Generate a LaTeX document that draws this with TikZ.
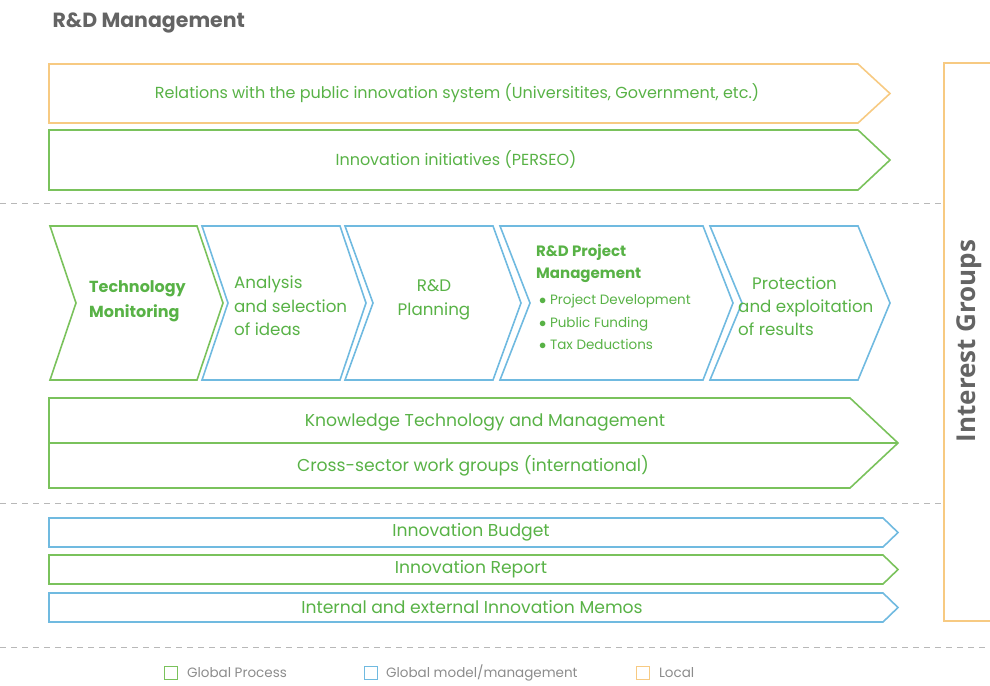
\documentclass[tikz,border=0pt]{standalone}
\usepackage{fontspec}
\setmainfont{Poppins}
\newfontfamily\groupfont{Open Sans}
\usetikzlibrary{positioning}

\definecolor{procgreen}{RGB}{122,194,92}
\definecolor{modelblue}{RGB}{112,186,224}
\definecolor{localorange}{RGB}{247,202,130}
\definecolor{txtgreen}{RGB}{88,178,70}
\definecolor{headgray}{RGB}{100,100,100}

\tikzset{
  proc/.style={draw=procgreen, line width=1.6pt, line join=miter},
  model/.style={draw=modelblue, line width=1.6pt, line join=miter},
  local/.style={draw=localorange, line width=1.6pt, line join=miter},
  sep/.style={draw=black!28, line width=0.9pt, dash pattern=on 6pt off 5pt},
  bartext/.style={text=txtgreen, inner sep=0pt, font=\fontsize{16}{18}\selectfont},
  steptext/.style={text=txtgreen, inner sep=0pt, align=left, anchor=west,
    font=\fontsize{16.7}{23.5}\selectfont},
  keybox/.style={draw, line width=1.3pt, minimum size=12.5pt, inner sep=0pt},
  key/.style={text=black!45, inner sep=0pt, font=\fontsize{13.5}{15}\selectfont},
}

\begin{document}
\begin{tikzpicture}[x=1pt,y=-1pt]
  \useasboundingbox (0,0) rectangle (990,685);

  \node[anchor=west, text=headgray, font=\fontsize{20.5}{24}\selectfont\bfseries] (title) at (49,23) {R\&D Management};

  % upper bars
  \draw[local] (49,64) -- (858,64) -- (890,93.5) -- (858,123) -- (49,123) -- cycle;
  \node[bartext] (public) at (457,93.5) {Relations with the public innovation system (Universitites, Government, etc.)};
  \draw[proc] (49,130) -- (858,130) -- (890,160) -- (858,190) -- (49,190) -- cycle;
  \node[bartext] (perseo) at (456,160) {Innovation initiatives (PERSEO)};

  \draw[sep] (0,203) -- (944,203);

  % value chain
  \foreach \l/\r/\d/\kind in {50/197/26/proc, 202/340/26/model, 345/493/28/model, 500/703/30/model, 710/858/32/model}
    \draw[\kind] (\l,226) -- (\r,226) -- ({\r+\d},303) -- (\r,380) -- (\l,380) -- ({\l+\d},303) -- cycle;

  \node[steptext, font=\fontsize{16}{25}\selectfont\bfseries] (monitor) at (89,301) {Technology\\Monitoring};
  \node[steptext] (ideas) at (234,306) {Analysis\\and selection\\of ideas};
  \node[steptext, align=center, anchor=center] (plan) at (434,300) {R\&D\\Planning};
  \node[steptext, font=\fontsize{15}{22}\selectfont\bfseries] (project) at (536,264) {R\&D Project\\Management};
  \node[steptext, font=\fontsize{13.5}{22.5}\selectfont] (items) at (539,322) {%
    $\bullet$ Project Development\\$\bullet$ Public Funding\\$\bullet$ Tax Deductions};
  \node[steptext, font=\fontsize{16.7}{23}\selectfont] (results) at (738,306) {\hspace*{14pt}Protection\\and exploitation\\of results};

  % knowledge arrow
  \draw[proc] (49,398) -- (850,398) -- (898,443) -- (850,488) -- (49,488) -- cycle;
  \draw[proc] (49,443) -- (898,443);
  \node[bartext, font=\fontsize{17.2}{20}\selectfont] (knowledge) at (485,422) {Knowledge Technology and Management};
  \node[bartext, font=\fontsize{17.2}{20}\selectfont] (crosssector) at (473,466) {Cross-sector work groups (international)};

  \draw[sep] (0,503) -- (944,503);

  % reporting bars
  \draw[model] (49,518) -- (883,518) -- (898,532.5) -- (883,547) -- (49,547) -- cycle;
  \node[bartext, font=\fontsize{17.2}{20}\selectfont] (budget) at (471,532) {Innovation Budget};
  \draw[proc] (49,555) -- (883,555) -- (898,569.5) -- (883,584) -- (49,584) -- cycle;
  \node[bartext, font=\fontsize{17.2}{20}\selectfont] (report) at (471,569) {Innovation Report};
  \draw[model] (49,593) -- (883,593) -- (898,607.5) -- (883,622) -- (49,622) -- cycle;
  \node[bartext, font=\fontsize{17.2}{20}\selectfont] (memos) at (472,607) {Internal and external Innovation Memos};

  % interest groups
  \draw[local] (990,63) -- (944,63) -- (944,621) -- (990,621);
  \node[rotate=90, text=headgray, inner sep=0pt, font=\groupfont\fontsize{26}{30}\selectfont\bfseries] (groups) at (969,341) {Interest Groups};

  \draw[sep] (0,647) -- (990,647);

  % legend
  \node[keybox, draw=procgreen] (kproc) at (171,673) {};
  \node[key, right=9pt of kproc] (lproc) {Global Process};
  \node[keybox, draw=modelblue] (kmodel) at (371,673) {};
  \node[key, right=8pt of kmodel] (lmodel) {Global model/management};
  \node[keybox, draw=localorange] (klocal) at (643,673) {};
  \node[key, right=9pt of klocal] (llocal) {Local};
\end{tikzpicture}
\end{document}
